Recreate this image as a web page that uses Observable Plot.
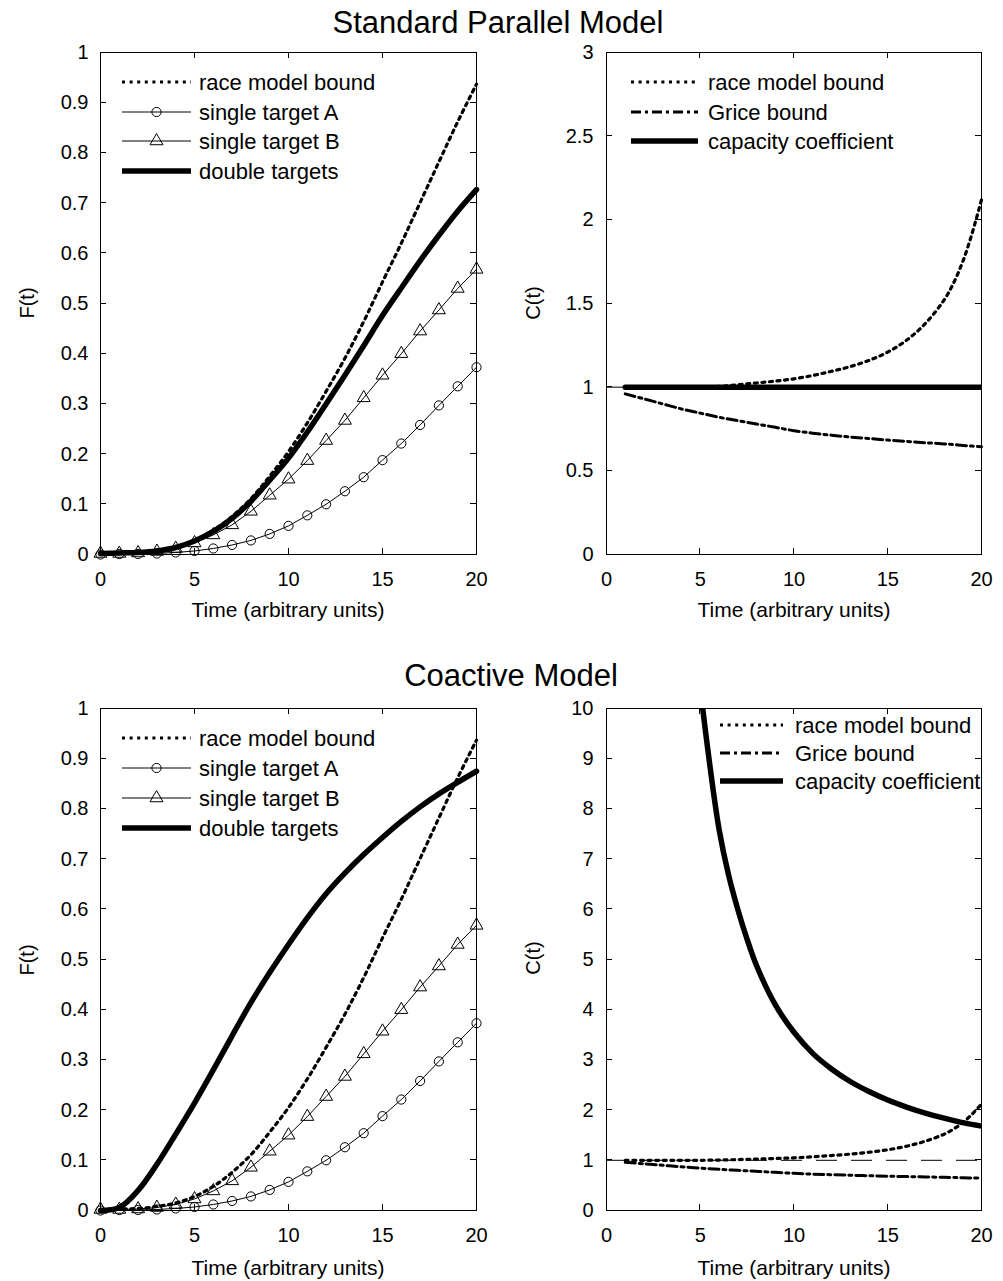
<!DOCTYPE html>
<html><head><meta charset="utf-8">
<script src="https://cdn.jsdelivr.net/npm/d3@7"></script>
<script src="https://cdn.jsdelivr.net/npm/@observablehq/plot@0.6"></script>
<style>
html,body{margin:0;padding:0;background:#fff;overflow:hidden;}
#page{position:relative;width:1003px;height:1281px;background:#fff;font-family:"Liberation Sans",Arial,Helvetica,sans-serif;}
#page > svg, #page > figure{position:absolute;margin:0;}
</style></head><body><div id="page"></div>
<script>
// ---------- data ----------
const timeF = [0,1,2,3,4,5,6,7,8,9,10,11,12,13,14,15,16,17,18,19,20];
const singleA = [0.000,0.001,0.001,0.002,0.004,0.007,0.012,0.019,0.028,0.041,0.057,0.078,0.100,0.126,0.154,0.188,0.221,0.258,0.297,0.335,0.373];
const singleB = [0.002,0.002,0.003,0.006,0.012,0.023,0.039,0.059,0.086,0.118,0.150,0.187,0.227,0.267,0.312,0.357,0.400,0.445,0.487,0.530,0.568];
const raceF = [0.002,0.003,0.004,0.008,0.015,0.028,0.048,0.076,0.111,0.156,0.205,0.262,0.325,0.391,0.464,0.543,0.620,0.701,0.782,0.862,0.937];
const doubleParallel = [0.002,0.003,0.004,0.007,0.014,0.027,0.046,0.072,0.106,0.148,0.192,0.244,0.300,0.357,0.416,0.476,0.531,0.585,0.636,0.684,0.727];
const doubleCoactive = [0.000,0.006,0.040,0.092,0.152,0.214,0.280,0.348,0.414,0.474,0.530,0.583,0.631,0.672,0.709,0.743,0.775,0.804,0.830,0.853,0.875];

const timeC = [1,2,3,4,5,6,7,8,9,10,11,12,13,14,15,16,17,18,18.5,19,19.5,20];
const raceC = [1.00,1.00,1.00,1.00,1.00,1.005,1.014,1.025,1.036,1.05,1.07,1.095,1.123,1.16,1.21,1.28,1.38,1.52,1.62,1.75,1.92,2.12];
const griceC = [0.96,0.93,0.90,0.87,0.845,0.82,0.80,0.78,0.76,0.74,0.725,0.713,0.702,0.693,0.684,0.676,0.668,0.661,0.657,0.652,0.648,0.644];
const capParallel = [1,1,1,1,1,1,1,1,1,1,1,1,1,1,1,1,1,1,1,1,1,1];
const timeCapCoactive = [5,5.5,6,6.5,7,7.5,8,9,10,11,12,13,14,15,16,17,18,19,20];
const capCoactive = [10.4,8.9,7.6,6.7,6.0,5.4,4.88,4.10,3.55,3.13,2.82,2.57,2.37,2.20,2.06,1.94,1.84,1.75,1.68];
const referenceLevel = [1];

const xTicks = [0,5,10,15,20];
const fTicks = [0,0.1,0.2,0.3,0.4,0.5,0.6,0.7,0.8,0.9,1];
const cTicksParallel = [0,0.5,1,1.5,2,2.5,3];
const cTicksCoactive = [0,1,2,3,4,5,6,7,8,9,10];

const titles = ["Standard Parallel Model","Coactive Model"];
const xLabel = "Time (arbitrary units)";
const fLabel = "F(t)", cLabel = "C(t)";
const fLegend = ["race model bound","single target A","single target B","double targets"];
const cLegend = ["race model bound","Grice bound","capacity coefficient"];

// ---------- styles ----------
const FONT = '"Liberation Sans", Arial, Helvetica, sans-serif';
const DOT = {strokeWidth: 3.2, strokeDasharray: "3,4.6"};
const DASHDOT = {strokeWidth: 3, strokeDasharray: "10,4,3,4"};
const THICK = {strokeWidth: 5.5};
const TICK = 6;
const FRAME_H = 502;
const page = document.getElementById("page");

function axes(yTicks, ypad) {
  const fmt = d => `${d}`;
  return [
    Plot.axisX(xTicks, {anchor: "bottom", tickSize: 0, tickPadding: 17, fontSize: 20, label: null, tickFormat: fmt}),
    Plot.axisY(yTicks, {anchor: "left", tickSize: 0, tickPadding: ypad, fontSize: 20, label: null, tickFormat: fmt}),
    Plot.frame({stroke: "black", strokeWidth: 1})
  ];
}

function place(el, left, top) {
  el.style.left = left + "px"; el.style.top = top + "px";
  page.appendChild(el);
  return el;
}

function fPanel(dbl, height) {
  const data = timeF.map((t, i) => ({t, a: singleA[i], b: singleB[i], race: raceF[i], dbl: dbl[i]}));
  return Plot.plot({
    width: 500, height, marginLeft: 100, marginRight: 24, marginTop: 52, marginBottom: height - 52 - FRAME_H,
    x: {domain: [0, 20]}, y: {domain: [0, 1]},
    style: {fontFamily: FONT, fontSize: "20px", color: "black", background: "transparent", overflow: "visible"},
    marks: [
      Plot.line(data, {x: "t", y: "race", stroke: "black", ...DOT, curve: "catmull-rom"}),
      Plot.line(data, {x: "t", y: "a", stroke: "black", strokeWidth: 1}),
      Plot.dot(data, {x: "t", y: "a", r: 4.6, fill: "none", stroke: "black", strokeWidth: 1}),
      Plot.line(data, {x: "t", y: "b", stroke: "black", strokeWidth: 1}),
      Plot.dot(data, {x: "t", y: "b", symbol: "triangle", r: 4.8, fill: "none", stroke: "black", strokeWidth: 1}),
      Plot.line(data, {x: "t", y: "dbl", stroke: "black", ...THICK, curve: "catmull-rom"}),
      ...axes(fTicks, 12)
    ]
  });
}

function cPanel(capT, cap, domainMax, yTicks, height) {
  const bounds = timeC.map((t, i) => ({t, race: raceC[i], grice: griceC[i]}));
  const capData = capT.map((t, i) => ({t, c: cap[i]}));
  return Plot.plot({
    width: 497, height, marginLeft: 100, marginRight: 22, marginTop: 52, marginBottom: height - 52 - FRAME_H,
    x: {domain: [0, 20]}, y: {domain: [0, domainMax]},
    style: {fontFamily: FONT, fontSize: "20px", color: "black", background: "transparent", overflow: "visible"},
    marks: [
      Plot.ruleY(referenceLevel, {stroke: "black", strokeWidth: 1, strokeDasharray: "21,14"}),
      Plot.line(bounds, {x: "t", y: "race", stroke: "black", ...DOT, curve: "catmull-rom"}),
      Plot.line(bounds, {x: "t", y: "grice", stroke: "black", ...DASHDOT, curve: "catmull-rom"}),
      Plot.line(capData, {x: "t", y: "c", stroke: "black", ...THICK, curve: "catmull-rom", clip: true}),
      ...axes(yTicks, 13)
    ]
  });
}

const panels = [
  {plot: place(fPanel(doubleParallel, 640), 0, 0), left: 0, top: 0, yTicks: fTicks},
  {plot: place(cPanel(timeC, capParallel, 3, cTicksParallel, 640), 506, 0), left: 506, top: 0, yTicks: cTicksParallel},
  {plot: place(fPanel(doubleCoactive, 625), 0, 656), left: 0, top: 656, yTicks: fTicks},
  {plot: place(cPanel(timeCapCoactive, capCoactive, 10, cTicksCoactive, 625), 506, 656), left: 506, top: 656, yTicks: cTicksCoactive}
];

// ---------- overlay: inward ticks, titles, axis labels, legends ----------
const svg = d3.create("svg").attr("width", 1003).attr("height", 1281)
  .style("left", "0px").style("top", "0px").style("pointer-events", "none")
  .attr("font-family", FONT).attr("fill", "black");
page.appendChild(svg.node());

// inward ticks on all four sides, positioned through each plot's own scales
for (const {plot, left, top, yTicks} of panels) {
  const sx = plot.scale("x"), sy = plot.scale("y");
  const [xa, xb] = sx.range, [ya, yb] = sy.range; // ya bottom, yb top
  const g = svg.append("g").attr("stroke", "black").attr("stroke-width", 1).attr("shape-rendering", "crispEdges");
  for (const t of xTicks) {
    const px = left + sx.apply(t);
    g.append("line").attr("x1", px).attr("x2", px).attr("y1", top + ya).attr("y2", top + ya - TICK);
    g.append("line").attr("x1", px).attr("x2", px).attr("y1", top + yb).attr("y2", top + yb + TICK);
  }
  for (const v of yTicks) {
    const py = top + sy.apply(v);
    g.append("line").attr("x1", left + xa).attr("x2", left + xa + TICK).attr("y1", py).attr("y2", py);
    g.append("line").attr("x1", left + xb).attr("x2", left + xb - TICK).attr("y1", py).attr("y2", py);
  }
}

svg.append("text").attr("x", 498).attr("y", 33).attr("text-anchor", "middle").attr("font-size", 31).text(titles[0]);
svg.append("text").attr("x", 511).attr("y", 686).attr("text-anchor", "middle").attr("font-size", 31).text(titles[1]);

for (const [cx, cy] of [[288, 609], [794, 609], [288, 1267], [794, 1267]]) {
  svg.append("text").attr("x", cx).attr("y", cy).attr("text-anchor", "middle")
    .attr("dominant-baseline", "central").attr("font-size", 21).text(xLabel);
}
for (const [cx, cy, lab] of [[27, 303, fLabel], [533, 303, cLabel], [27, 960, fLabel], [533, 958, cLabel]]) {
  svg.append("text").attr("transform", `translate(${cx},${cy}) rotate(-90)`).attr("text-anchor", "middle")
    .attr("dominant-baseline", "central").attr("font-size", 20).text(lab);
}

function legendRow(x1, x2, tx, y, label, style, marker) {
  const g = svg.append("g");
  const ln = g.append("line").attr("x1", x1).attr("x2", x2).attr("y1", y).attr("y2", y)
    .attr("stroke", "black").attr("stroke-width", style.strokeWidth || 1);
  if (style.strokeDasharray) ln.attr("stroke-dasharray", style.strokeDasharray);
  const mx = (x1 + x2) / 2;
  if (marker === "circle") g.append("circle").attr("cx", mx).attr("cy", y).attr("r", 4.6).attr("fill", "none").attr("stroke", "black");
  if (marker === "triangle") g.append("path").attr("transform", `translate(${mx},${y})`)
    .attr("d", d3.symbol(d3.symbolTriangle, Math.PI * 4.8 * 4.8)()).attr("fill", "none").attr("stroke", "black");
  g.append("text").attr("x", tx).attr("y", y).attr("dominant-baseline", "central").attr("font-size", 22).text(label);
}
function fLegendAt(x1, x2, tx, ys) {
  legendRow(x1, x2, tx, ys[0], fLegend[0], DOT);
  legendRow(x1, x2, tx, ys[1], fLegend[1], {strokeWidth: 1}, "circle");
  legendRow(x1, x2, tx, ys[2], fLegend[2], {strokeWidth: 1}, "triangle");
  legendRow(x1, x2, tx, ys[3], fLegend[3], THICK);
}
function cLegendAt(x1, x2, tx, ys) {
  legendRow(x1, x2, tx, ys[0], cLegend[0], DOT);
  legendRow(x1, x2, tx, ys[1], cLegend[1], DASHDOT);
  legendRow(x1, x2, tx, ys[2], cLegend[2], THICK);
}
fLegendAt(122, 191, 199, [82, 112, 141, 171]);
cLegendAt(631, 698, 708, [82, 112, 141]);
fLegendAt(122, 191, 199, [738, 768, 798, 828]);
cLegendAt(720, 783, 795, [725, 753, 781]);
</script>
</body></html>
